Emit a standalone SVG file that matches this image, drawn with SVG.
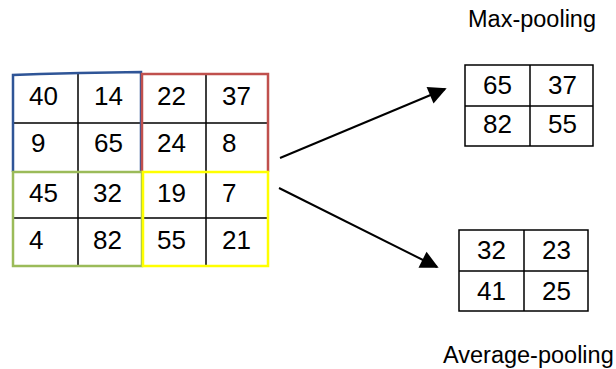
<svg xmlns="http://www.w3.org/2000/svg" width="616" height="369" viewBox="0 0 616 369">
<defs>
<style>
.g{fill:none;stroke:#000;stroke-width:1.5}
.n{font-family:"Liberation Sans",Arial,sans-serif;font-size:26px;fill:#000}
.t{font-family:"Liberation Sans",Arial,sans-serif;font-size:23.5px;fill:#000}
.a{fill:none;stroke:#000;stroke-width:2}
</style>
<marker id="ah" viewBox="0 0 10 10" refX="9" refY="5" markerWidth="9" markerHeight="9" markerUnits="userSpaceOnUse" orient="auto" overflow="visible">
<path d="M0,0 L10,5 L0,10 z" fill="#000" transform="scale(2)" transform-origin="9 5"/>
</marker>
</defs>
<rect width="616" height="369" fill="#fff"/>
<g id="input">
<path class="g" d="M142,74 H268 M13,123 H268 M13,172 H268 M13,218 H268 M13,266 H268 M13,74 V266 M78,74 V266 M142,74 V266 M206,74 V266 M268,74 V266"/>
<path d="M13,172 V75 L40,74 L80,73 L141,72 V172" fill="none" stroke="#2f5597" stroke-width="2.5"/>
<path d="M142,172 V74 H268 V172" fill="none" stroke="#c0504d" stroke-width="2.5"/>
<path d="M13,172 V266 H142 V172 Z" fill="none" stroke="#9bbb59" stroke-width="2.5"/>
<rect x="143" y="172" width="125" height="94" fill="none" stroke="#ffff00" stroke-width="2.5"/>
<text class="n" x="29" y="105">40</text><text class="n" x="94" y="105">14</text><text class="n" x="157" y="105">22</text><text class="n" x="222" y="105">37</text>
<text class="n" x="31" y="152">9</text><text class="n" x="94" y="152">65</text><text class="n" x="157" y="152">24</text><text class="n" x="222" y="152">8</text>
<text class="n" x="29" y="202">45</text><text class="n" x="93" y="202">32</text><text class="n" x="157" y="202">19</text><text class="n" x="222" y="202">7</text>
<text class="n" x="29" y="249">4</text><text class="n" x="93" y="249">82</text><text class="n" x="157" y="249">55</text><text class="n" x="222" y="249">21</text>
</g>
<g id="maxpool">
<text class="t" x="468" y="27">Max-pooling</text>
<path class="g" d="M465,65 H593 V146 H465 Z M530,65 V146 M465,106 H593"/>
<text class="n" x="483" y="94">65</text><text class="n" x="548" y="94">37</text>
<text class="n" x="483" y="133">82</text><text class="n" x="548" y="133">55</text>
</g>
<g id="avgpool">
<path class="g" d="M459,230 H588 V311 H459 Z M524,230 V311 M459,271 H588"/>
<text class="n" x="477" y="259">32</text><text class="n" x="542" y="259">23</text>
<text class="n" x="477" y="300">41</text><text class="n" x="542" y="300">25</text>
<text class="t" x="443" y="363">Average-pooling</text>
</g>
<g id="connectors">
<line class="a" x1="280" y1="158" x2="445" y2="89" marker-end="url(#ah)"/>
<line class="a" x1="279" y1="188" x2="437" y2="267" marker-end="url(#ah)"/>
</g>
</svg>
